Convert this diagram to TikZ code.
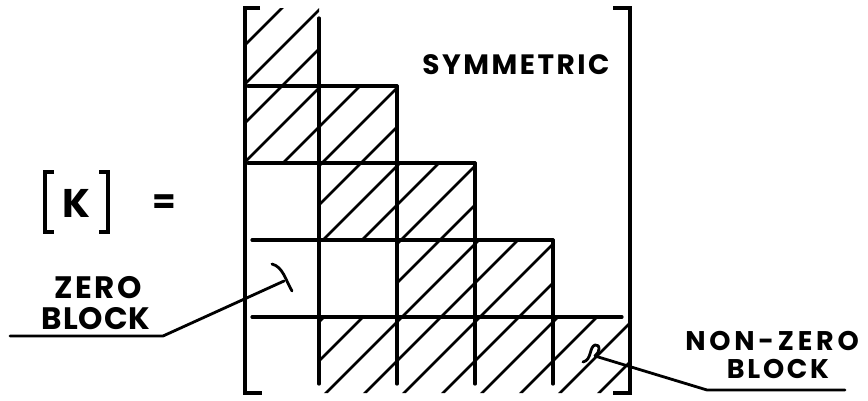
\documentclass[tikz,border=0pt]{standalone}
\usepackage{fontspec}
\setmainfont{Poppins}
\begin{document}
\begin{tikzpicture}[x=1pt,y=-1pt,line cap=round,line join=round]
\tikzset{
  gridline/.style={line width=3.2pt},
  hatchline/.style={line width=2.8pt},
  brk/.style={line width=3.8pt,line cap=butt,line join=miter},
  leader/.style={line width=2.8pt},
  lbl/.style 2 args={inner sep=0pt,font=\bfseries\fontsize{#1}{#1}\selectfont\addfontfeatures{LetterSpace=#2}},
}
\useasboundingbox (0,0) rectangle (868,400);
% hatching
\begin{scope}
\clip (245,8) -- (319,8) -- (319,86) -- (397,86) -- (397,163) -- (475,163) -- (475,240) -- (553,240) -- (553,317) -- (630,317) -- (630,393) -- (319,393) -- (319,317) -- (397,317) -- (397,240) -- (319,240) -- (319,163) -- (245,163) -- cycle;
\foreach \c in {251,290,...,1040} \draw[hatchline] (\c-400,400) -- (\c,0);
\end{scope}
% grid
\draw[gridline] (319,18) -- (319,384);
\draw[gridline] (397,86) -- (397,384);
\draw[gridline] (475,163) -- (475,384);
\draw[gridline] (553,240) -- (553,384);
\draw[gridline] (248,86) -- (397,86);
\draw[gridline] (248,163) -- (475,163);
\draw[gridline] (252,240) -- (553,240);
\draw[gridline] (252,317) -- (622,317);
% matrix brackets
\draw[brk] (260,8) -- (245,8) -- (245,393) -- (262,393);
\draw[brk] (613,8) -- (630,8) -- (630,393) -- (613,393);
% [K] =
\draw[brk,line width=3.2pt] (54,172) -- (45,172) -- (45,232) -- (54,232);
\draw[brk,line width=3.2pt] (99,172) -- (108,172) -- (108,232) -- (99,232);
\node[lbl={40}{0}] (K) at (76.5,203) {K};
\node[lbl={34}{0}] (eq) at (164,204) {=};
\node[lbl={28}{9}] (sym) at (516,65) {SYMMETRIC};
\node[lbl={31}{8}] (zero) at (98,288) {ZERO};
\node[lbl={31}{3}] (zblock) at (96,319) {BLOCK};
\node[lbl={27}{14}] (nonzero) at (772,341) {NON-ZERO};
\node[lbl={27}{10}] (nblock) at (778,369) {BLOCK};
% leaders
\coordinate (z1) at (10,336);
\coordinate (z2) at (163,336);
\coordinate (z3) at (284,281);
\draw[leader] (z1) -- (z2) -- (z3);
\draw[leader] (272,264) .. controls (283,267) and (285,279) .. (292,291);
\coordinate (n1) at (845,390);
\coordinate (n2) at (707,390);
\coordinate (n3) at (595,356);
\draw[leader] (n1) -- (n2) -- (n3);
\draw[leader] (583,362) .. controls (592,360) and (589,347) .. (595,345) .. controls (601,344) and (600,352) .. (n3);
\end{tikzpicture}
\end{document}
